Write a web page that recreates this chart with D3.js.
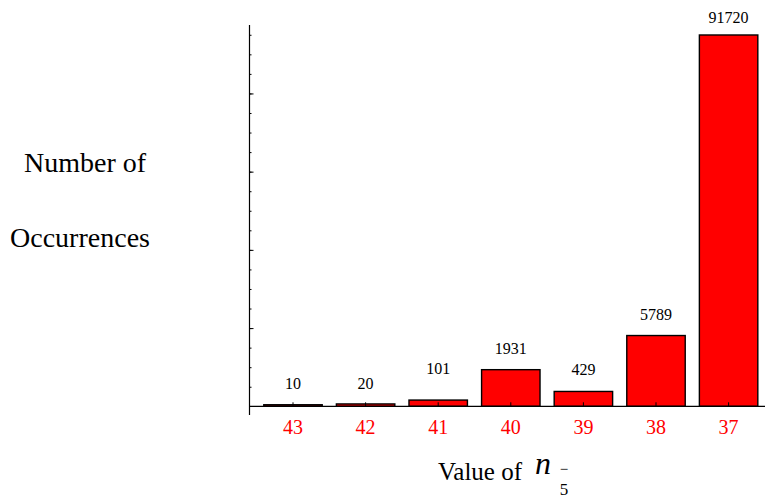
<!DOCTYPE html>
<html>
<head>
<meta charset="utf-8">
<script src="https://cdn.jsdelivr.net/npm/d3@7/dist/d3.min.js"></script>
<style>
  body { margin: 0; background: #fff; }
</style>
</head>
<body>
<div id="chartContainer"></div>
<script>
// values of n5- and how often each occurred
var categories = ["43", "42", "41", "40", "39", "38", "37"];
var counts = [10, 20, 101, 1931, 429, 5789, 91720];
// the bar heights follow count^0.6
var exponent = 0.6;
// axis ticks in the stretched units
var minorTicks = d3.range(50, 1000, 50);
var majorTicks = d3.range(200, 1000, 200);
// how far each count label sits above its bar, px
var labelDy = [16, 15, 26, 16, 16, 16, 12];

var width = 765,
    height = 498,
    axisx = 249.5,
    basey = 406.3,
    topy = 25,
    topUnits = 975,
    serif = "'Liberation Serif'";

var svg = d3.select("#chartContainer").append("svg")
    .attr("width", width)
    .attr("height", height);

var x = d3.scaleBand()
    .domain(categories)
    .range([256.7, 764.9])
    .paddingInner(0.195)
    .paddingOuter(0.0975);

var y = d3.scalePow()
    .exponent(exponent)
    .domain([0, Math.pow(topUnits, 1 / exponent)])
    .range([basey, topy]);

// linear scale in the stretched units, for the tick marks only
var yt = d3.scaleLinear()
    .domain([0, topUnits])
    .range([basey, topy]);

var addText = function (str, tx, ty, size) {
    return svg.append("text")
        .attr("x", tx).attr("y", ty)
        .attr("font-size", size)
        .style("font-family", serif)
        .text(str);
};

// bars
svg.selectAll(".bar")
    .data(counts)
    .enter()
    .append("rect")
    .attr("class", "bar")
    .attr("x", function (d, i) { return x(categories[i]); })
    .attr("y", function (d) { return y(d); })
    .attr("width", x.bandwidth())
    .attr("height", function (d) { return basey - y(d); })
    .attr("fill", "#ff0000")
    .attr("stroke", "#000")
    .attr("stroke-width", 1.4);

// count labels
svg.selectAll(".count")
    .data(counts)
    .enter()
    .append("text")
    .attr("class", "count")
    .attr("x", function (d, i) { return x(categories[i]) + x.bandwidth() / 2; })
    .attr("y", function (d, i) { return y(d) - labelDy[i]; })
    .attr("text-anchor", "middle")
    .attr("font-size", 16)
    .attr("fill", "#000")
    .style("font-family", serif)
    .text(function (d) { return d; });

// y axis: ticks pointing inward, no labels
var minorAxis = d3.axisRight(yt).tickValues(minorTicks).tickSize(2).tickFormat("");
var majorAxis = d3.axisRight(yt).tickValues(majorTicks).tickSize(4).tickFormat("");
[minorAxis, majorAxis].forEach(function (ax) {
    var g = svg.append("g")
        .attr("transform", "translate(" + axisx + ",0)")
        .call(ax);
    g.select(".domain").remove();
    g.selectAll("line").attr("stroke", "#000").attr("stroke-width", 1);
});
svg.append("line")
    .attr("x1", axisx).attr("x2", axisx)
    .attr("y1", topy).attr("y2", 415)
    .attr("stroke", "#000").attr("stroke-width", 1.2);

// x axis: baseline, small ticks up at bar centres, red labels
var xaxis = svg.append("g")
    .attr("transform", "translate(0," + basey + ")")
    .call(d3.axisTop(x).tickSize(4).tickFormat(""));
xaxis.select(".domain").remove();
xaxis.selectAll("line").attr("stroke", "#000").attr("stroke-width", 1);
svg.append("line")
    .attr("x1", axisx).attr("x2", width)
    .attr("y1", basey).attr("y2", basey)
    .attr("stroke", "#000").attr("stroke-width", 1.2);

svg.selectAll(".cat")
    .data(categories)
    .enter()
    .append("text")
    .attr("class", "cat")
    .attr("x", function (d) { return x(d) + x.bandwidth() / 2; })
    .attr("y", 434)
    .attr("text-anchor", "middle")
    .attr("font-size", 20)
    .attr("fill", "#ff0000")
    .style("font-family", serif)
    .text(function (d) { return d; });

// axis titles
addText("Number of", 85, 171.5, 28).attr("text-anchor", "middle");
addText("Occurrences", 80, 246.5, 28).attr("text-anchor", "middle");

addText("Value of", 438, 479.5, 25);
addText("n", 535, 473.5, 32).attr("font-style", "italic");
addText("\u2212", 564, 474, 15).attr("text-anchor", "middle");
addText("5", 564, 495, 17).attr("text-anchor", "middle");
</script>
</body>
</html>
